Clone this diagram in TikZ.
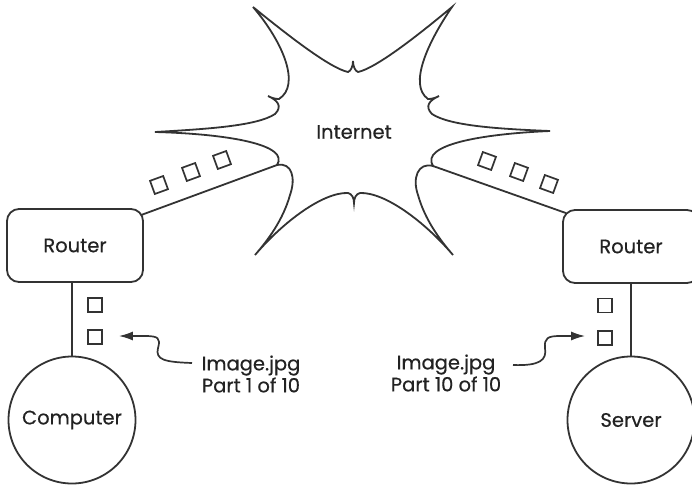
\documentclass[tikz,border=0pt]{standalone}
\usepackage{fontspec}
\setmainfont{Poppins}[FakeBold=0.5]
\usetikzlibrary{calc,arrows.meta}
\definecolor{ink}{HTML}{333333}
\definecolor{txt}{HTML}{222222}
\begin{document}
\begin{tikzpicture}[x=1pt,y=-1pt,
  line width=1.8pt, draw=ink,
  every node/.style={text=txt,font=\fontsize{19.5}{22}\selectfont},
  routerbox/.style={draw=ink,rounded corners=12pt,minimum width=136pt,minimum height=73pt,inner sep=0pt},
  hostcircle/.style={draw=ink,circle,minimum size=127pt,inner sep=0pt},
  packet/.style={draw=ink,line width=1.7pt,minimum size=14pt,inner sep=0pt},
  pointer/.style={draw=ink,line width=1.7pt,-{Latex[length=14pt,width=9pt]}},
  label/.style={align=center,inner sep=0pt}]
\useasboundingbox (0,0) rectangle (692,485);
% coordinates where the links meet the burst
\coordinate (J1) at (277,165);
\coordinate (J2) at (433,166);
% Internet burst
\draw[ink] (253,7) .. controls (290,37) and (330,68) .. (348,72)
  .. controls (351,71) and (353,66) .. (353,61)
  .. controls (353,66) and (355,71) .. (358,72)
  .. controls (376,68) and (416,37) .. (452,7)
  .. controls (428,42) and (408,85) .. (428,99)
  .. controls (432,99) and (435,98) .. (439,96)
  .. controls (430,100) and (424,106) .. (432,114)
  .. controls (450,126) and (500,129) .. (550,131)
  .. controls (480,134) and (420,145) .. (J2)
  .. controls (418,162) and (412,178) .. (418,195)
  .. controls (425,220) and (440,240) .. (453,255)
  .. controls (425,222) and (385,192) .. (360,193)
  .. controls (356,194) and (354,198) .. (354,203)
  .. controls (354,198) and (352,194) .. (348,193)
  .. controls (323,192) and (283,222) .. (255,255)
  .. controls (268,240) and (283,220) .. (290,195)
  .. controls (296,178) and (292,162) .. (J1)
  .. controls (290,145) and (230,134) .. (155,132)
  .. controls (207,129) and (257,126) .. (275,114)
  .. controls (283,106) and (277,100) .. (268,96)
  .. controls (272,98) and (275,99) .. (279,99)
  .. controls (301,85) and (283,42) .. (253,7) -- cycle;
\node (internet) at (354,132) {Internet};
% routers and hosts
\node[routerbox] (routerL) at (75,245.5) {Router};
\node[routerbox] (routerR) at (631,246.5) {Router};
\node[hostcircle] (computer) at (72,420) {Computer};
\node[hostcircle] (server) at (631,420) {Server};
% links
\draw ($(routerL.north east)+(-3,7)$) -- (J1);
\draw ($(routerR.north west)+(4,4)$) -- (J2);
\draw (computer.north) -- (computer.north |- routerL.south);
\draw (server.north) -- (server.north |- routerR.south);
% packets on the wide links
\node[packet,rotate=20] (pl1) at (159,185) {};
\node[packet,rotate=20] (pl2) at (191,172) {};
\node[packet,rotate=20] (pl3) at (222,160) {};
\node[packet,rotate=-20] (pr1) at (487,161) {};
\node[packet,rotate=-20] (pr2) at (519,172) {};
\node[packet,rotate=-20] (pr3) at (549,184) {};
% packets on the local links
\node[packet] (sl1) at (95,305) {};
\node[packet] (sl2) at (95,337) {};
\node[packet] (sr1) at (605,305.5) {};
\node[packet] (sr2) at (605,338) {};
% labels
\node[label] (lblL) at (251,374) {Image.jpg\\Part 1 of 10};
\node[label] (lblR) at (446,373) {Image.jpg\\Part 10 of 10};
\coordinate (aL0) at (192,363);
\coordinate (aL1) at ($(sl2.east)+(16,-1)$);
\coordinate (aR0) at (513,365);
\coordinate (aR1) at ($(sr2.west)+(-12,-2)$);
\draw[pointer] (aL0) .. controls (165,362) and (155,360) .. (158,348)
  .. controls (161,338) and (158,336) .. (145,336) -- (aL1);
\draw[pointer] (aR0) .. controls (540,366) and (547,360) .. (545,348)
  .. controls (544,338) and (548,336) .. (560,336) -- (aR1);
\end{tikzpicture}
\end{document}
